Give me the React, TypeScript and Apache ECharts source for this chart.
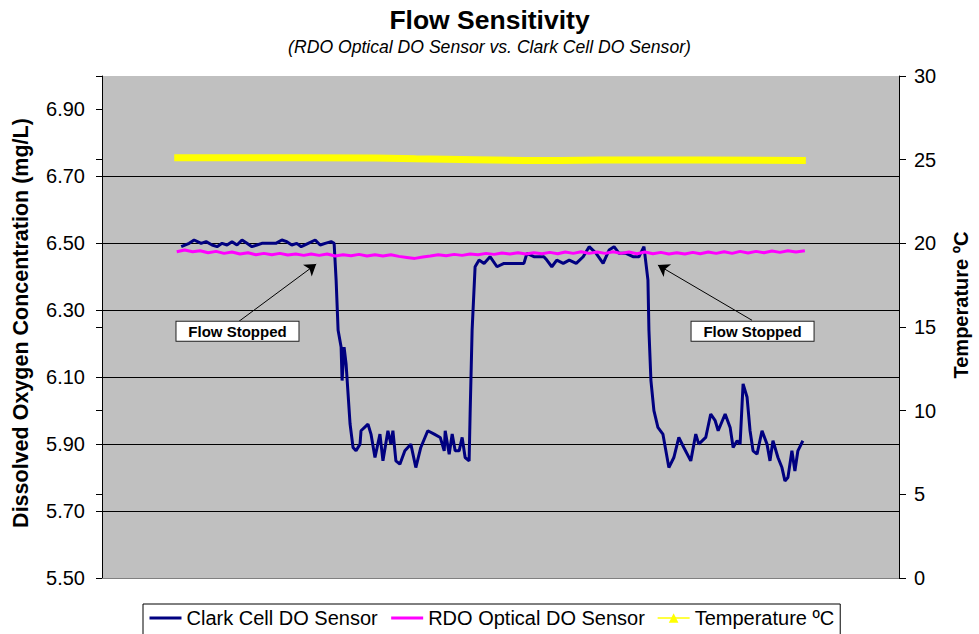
import React, { useEffect, useRef } from "react";
import * as echarts from "echarts";

// Time index (sample minutes) vs. dissolved oxygen
const clarkCell: [number, number][] = [
  [15.9, 6.49], [17.5, 6.5], [18.5, 6.51], [19.9, 6.5], [20.9, 6.505], [22.1, 6.495], [23.1, 6.49],
  [24.1, 6.5], [25.1, 6.495], [26.1, 6.505], [27.1, 6.495], [28.1, 6.51], [29.1, 6.5], [30.1, 6.49],
  [31.1, 6.495], [32.1, 6.5], [33.5, 6.5], [34.9, 6.5], [36.1, 6.51], [37.1, 6.505], [38.1, 6.495],
  [39.1, 6.5], [40.0, 6.49], [41.4, 6.5], [42.8, 6.51], [43.8, 6.495], [44.8, 6.5], [46.0, 6.505],
  [46.6, 6.5], [47.0, 6.39], [47.4, 6.24], [48.0, 6.19], [48.2, 6.09], [48.6, 6.19], [49.0, 6.14],
  [49.8, 5.96], [50.4, 5.89], [51.0, 5.88], [51.8, 5.9], [52.0, 5.94], [53.4, 5.96], [54.0, 5.93],
  [54.8, 5.86], [55.8, 5.93], [56.4, 5.85], [57.4, 5.94], [58.0, 5.9], [58.4, 5.94], [59.0, 5.85],
  [59.8, 5.84], [60.8, 5.88], [62.0, 5.9], [63.0, 5.83], [64.0, 5.89], [65.4, 5.94], [66.7, 5.93],
  [67.9, 5.92], [68.7, 5.88], [68.9, 5.94], [69.7, 5.87], [70.3, 5.93], [70.9, 5.88], [71.7, 5.88],
  [72.3, 5.92], [72.9, 5.86], [73.7, 5.85], [73.9, 5.99], [74.3, 6.24], [74.9, 6.43], [75.7, 6.45],
  [76.7, 6.44], [77.9, 6.46], [79.3, 6.43], [80.7, 6.44], [82.7, 6.44], [84.7, 6.44], [85.3, 6.47],
  [86.7, 6.46], [88.7, 6.46], [89.3, 6.45], [90.3, 6.43], [91.3, 6.45], [92.6, 6.44], [93.8, 6.45],
  [95.2, 6.44], [96.6, 6.46], [97.8, 6.49], [99.2, 6.47], [100.6, 6.44], [101.8, 6.48], [102.8, 6.49],
  [103.8, 6.47], [105.2, 6.47], [106.6, 6.46], [107.8, 6.46], [108.8, 6.49], [109.6, 6.39],
  [109.8, 6.24], [110.2, 6.09], [110.8, 6.0], [111.6, 5.95], [112.6, 5.93], [113.8, 5.83],
  [114.8, 5.86], [115.8, 5.92], [116.8, 5.89], [118.2, 5.85], [119.2, 5.93], [119.8, 5.9],
  [121.2, 5.92], [122.2, 5.99], [123.1, 5.97], [123.7, 5.94], [125.1, 5.99], [126.1, 5.95],
  [126.7, 5.89], [127.5, 5.91], [128.1, 5.9], [128.7, 6.08], [129.5, 6.04], [130.1, 5.94],
  [130.7, 5.88], [131.5, 5.87], [132.5, 5.94], [133.5, 5.9], [134.1, 5.85], [134.7, 5.91],
  [135.7, 5.86], [136.5, 5.83], [137.1, 5.79], [137.7, 5.8], [138.5, 5.88], [139.1, 5.82],
  [139.7, 5.88], [140.7, 5.91],
];

const rdoOptical: [number, number][] = [
  [15.0, 6.475], [16.6, 6.48], [18.2, 6.475], [19.7, 6.478], [21.3, 6.472], [22.9, 6.476],
  [24.5, 6.47], [26.1, 6.474], [27.7, 6.468], [29.3, 6.472], [30.9, 6.466], [32.5, 6.47],
  [34.1, 6.466], [35.7, 6.47], [37.3, 6.465], [38.9, 6.468], [40.5, 6.464], [42.0, 6.468],
  [43.6, 6.464], [45.2, 6.468], [46.8, 6.462], [48.4, 6.466], [50.0, 6.463], [51.6, 6.467],
  [53.2, 6.462], [54.8, 6.466], [56.4, 6.462], [58.0, 6.466], [59.6, 6.461], [61.2, 6.458],
  [62.8, 6.455], [64.4, 6.459], [65.9, 6.462], [67.5, 6.466], [69.1, 6.463], [70.7, 6.467],
  [72.3, 6.464], [73.9, 6.468], [75.5, 6.466], [77.1, 6.47], [78.7, 6.467], [80.3, 6.471],
  [81.9, 6.468], [83.5, 6.472], [85.1, 6.468], [86.7, 6.472], [88.3, 6.469], [89.9, 6.473],
  [91.5, 6.469], [93.0, 6.474], [94.6, 6.47], [96.2, 6.475], [97.8, 6.47], [99.4, 6.474],
  [101.0, 6.47], [102.6, 6.475], [104.2, 6.47], [105.8, 6.474], [107.4, 6.469], [109.0, 6.474],
  [110.6, 6.469], [112.2, 6.473], [113.8, 6.468], [115.4, 6.472], [117.0, 6.468], [118.6, 6.473],
  [120.1, 6.469], [121.7, 6.474], [123.3, 6.47], [124.9, 6.475], [126.5, 6.47], [128.1, 6.476],
  [129.7, 6.471], [131.3, 6.476], [132.9, 6.472], [134.5, 6.477], [136.1, 6.473], [137.7, 6.478],
  [139.3, 6.474], [141.1, 6.478],
];

const temperature: [number, number][] = [
  [14.5, 25.12], [40, 25.12], [55, 25.1], [63, 25.05], [75, 25.0], [85, 24.95], [92, 24.95],
  [100, 24.98], [120, 24.98], [141.3, 24.95],
];

const leftTicks = [5.5, 5.7, 5.9, 6.1, 6.3, 6.5, 6.7, 6.9];

const annotations = [
  { label: "Flow Stopped", box: [27.2, 6.237], tail: [27.5, 6.267], head: [43.0, 6.438] },
  { label: "Flow Stopped", box: [130.6, 6.237], tail: [130.5, 6.27], head: [111.6, 6.435] },
];

const FONT = "'Liberation Sans', Arial, sans-serif";

export default function App() {
  const ref = useRef<HTMLDivElement>(null);
  useEffect(() => {
    if (!ref.current) return;
    const chart = echarts.init(ref.current, undefined, { renderer: "svg" });
    const option: any = {
      animation: false,
      backgroundColor: "#ffffff",
      textStyle: { fontFamily: FONT },
      title: {
        text: "Flow Sensitivity",
        subtext: "(RDO Optical DO Sensor vs. Clark Cell DO Sensor)",
        left: "center",
        top: 1,
        itemGap: 5,
        textStyle: { fontSize: 26.5, fontWeight: "bold", color: "#000", fontFamily: FONT },
        subtextStyle: { fontSize: 17.6, fontStyle: "italic", color: "#000", fontFamily: FONT },
      },
      grid: {
        left: 102,
        right: 74,
        top: 76,
        bottom: 56,
        show: true,
        backgroundColor: "#c0c0c0",
        borderWidth: 0,
      },
      legend: {
        left: 143,
        top: 604,
        orient: "horizontal",
        borderColor: "#000",
        borderWidth: 1,
        backgroundColor: "#fff",
        padding: [4, 6, 8, 5],
        itemGap: 12,
        itemWidth: 32,
        itemHeight: 12,
        textStyle: { fontSize: 20, color: "#000", fontFamily: FONT },
        data: [
          { name: "Clark Cell DO Sensor", itemStyle: { opacity: 0 }, lineStyle: { width: 3 } },
          { name: "RDO Optical DO Sensor", itemStyle: { opacity: 0 }, lineStyle: { width: 3 } },
          { name: "Temperature ºC", lineStyle: { width: 1.5 } },
        ],
      },
      xAxis: {
        type: "value",
        min: 0,
        max: 160,
        axisLine: { show: true, onZero: false, lineStyle: { color: "#808080", width: 1 } },
        axisTick: { show: false },
        axisLabel: { show: false },
        splitLine: { show: false },
      },
      yAxis: [
        {
          type: "value",
          min: 5.5,
          max: 7.0,
          interval: 0.2,
          position: "left",
          axisLine: { show: true, onZero: false, lineStyle: { color: "#000" } },
          axisTick: { show: true, length: 6, customValues: leftTicks, lineStyle: { color: "#000" } },
          axisLabel: {
            customValues: leftTicks,
            formatter: (v: number) => v.toFixed(2),
            fontSize: 20,
            color: "#000",
            margin: 17,
            fontFamily: FONT,
          },
          splitLine: { show: true, showMinLine: false, showMaxLine: false, lineStyle: { color: "#000", width: 1 } },
          name: "Dissolved Oxygen Concentration (mg/L)",
          nameLocation: "middle",
          nameGap: 70,
          nameRotate: 90,
          nameTextStyle: { fontSize: 21.5, fontWeight: "bold", color: "#000", fontFamily: FONT, padding: [0, 0, 0, 8] },
        },
        {
          type: "value",
          min: 0,
          max: 30,
          interval: 5,
          position: "right",
          axisLine: { show: true, onZero: false, lineStyle: { color: "#000" } },
          axisTick: { show: true, length: 7, lineStyle: { color: "#000" } },
          axisLabel: { fontSize: 20, color: "#000", margin: 15, fontFamily: FONT },
          splitLine: { show: false },
          name: "Temperature ºC",
          nameLocation: "middle",
          nameGap: 52,
          nameRotate: 90,
          nameTextStyle: { fontSize: 20, fontWeight: "bold", color: "#000", fontFamily: FONT, padding: [0, 0, 0, 44] },
        },
        {
          type: "value",
          min: 0,
          max: 30,
          interval: 5,
          position: "right",
          axisLine: { show: false },
          axisTick: { show: true, inside: true, length: 6, lineStyle: { color: "#000" } },
          axisLabel: { show: false },
          splitLine: { show: false },
        },
      ],
      series: [
        {
          name: "Clark Cell DO Sensor",
          type: "line",
          yAxisIndex: 0,
          data: clarkCell,
          symbol: "none",
          lineStyle: { color: "#000080", width: 3 },
          itemStyle: { color: "#000080" },
          z: 3,
          markLine: {
            silent: true,
            symbol: ["none", "arrow"],
            symbolSize: 11,
            lineStyle: { color: "#000", width: 1, type: "solid" },
            label: { show: false },
            data: annotations.map((a) => [{ coord: a.tail }, { coord: a.head }]),
          },
          markPoint: {
            silent: true,
            symbol: "circle",
            symbolSize: 1,
            itemStyle: { color: "rgba(0,0,0,0)" },
            label: {
              show: true,
              position: "inside",
              formatter: "{b}",
              fontSize: 15,
              fontWeight: "bold",
              color: "#000",
              fontFamily: FONT,
              backgroundColor: "#fff",
              borderColor: "#222",
              borderWidth: 1,
              width: 122,
              height: 19,
              lineHeight: 19,
              align: "center",
              verticalAlign: "middle",
            },
            data: annotations.map((a) => ({ name: a.label, coord: a.box })),
          },
        },
        {
          name: "RDO Optical DO Sensor",
          type: "line",
          yAxisIndex: 0,
          data: rdoOptical,
          symbol: "none",
          lineStyle: { color: "#ff00ff", width: 3 },
          itemStyle: { color: "#ff00ff" },
          z: 4,
        },
        {
          name: "Temperature ºC",
          type: "line",
          yAxisIndex: 1,
          data: temperature,
          symbol: "triangle",
          symbolSize: 7,
          showSymbol: false,
          lineStyle: { color: "#ffff00", width: 7 },
          itemStyle: { color: "#ffff00" },
          z: 2,
        },
      ],
    };
    chart.setOption(option);
    return () => chart.dispose();
  }, []);
  return (
    <div
      ref={ref}
      style={{ position: "fixed", left: 0, top: 0, width: 979, height: 634 }}
    />
  );
}
